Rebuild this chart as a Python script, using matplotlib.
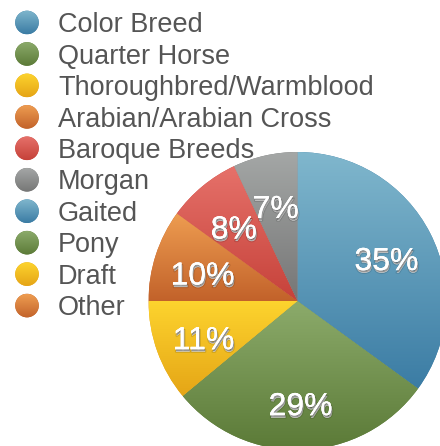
import numpy as np
import matplotlib
matplotlib.use("Agg")
import matplotlib.pyplot as plt
import matplotlib.patheffects as pe
from matplotlib.colors import LinearSegmentedColormap
from matplotlib.patches import Circle

plt.rcParams["font.family"] = ["Liberation Sans", "DejaVu Sans"]

# breed shares (%), last four are listed in the legend but have no slice
breeds = ["Color Breed", "Quarter Horse", "Thoroughbred/Warmblood",
          "Arabian/Arabian Cross", "Baroque Breeds", "Morgan",
          "Gaited", "Pony", "Draft", "Other"]
shares = [35, 29, 11, 10, 8, 7, 0, 0, 0, 0]

# gradient colours (top, bottom) per breed
tops = ["#80b7cd", "#8cab6b", "#fdd42e", "#ee9d51", "#e6716a", "#a4a7a6",
        "#80b7cd", "#8cab6b", "#fdd42e", "#ee9d51"]
bottoms = ["#3b7ca4", "#5b7a37", "#e5a516", "#c2622a", "#c6423a", "#767676",
           "#3b7ca4", "#5b7a37", "#e5a516", "#c2622a"]

W, H = 440, 446
fig = plt.figure(figsize=(W / 100, H / 100), dpi=100)
ax = fig.add_axes([0, 0, 1, 1])


def gradient_fill(patch, x0, x1, y0, y1, top, bottom, z):
    cmap = LinearSegmentedColormap.from_list("g", [top, bottom])
    grad = np.linspace(0, 1, 256).reshape(-1, 1)
    im = ax.imshow(grad, cmap=cmap, extent=(x0, x1, y0, y1), origin="upper",
                   aspect="auto", interpolation="bilinear", zorder=z)
    im.set_clip_path(patch)


# pie
cx, cy, R = 297.5, H - 301, 149
idx = [i for i, s in enumerate(shares) if s > 0]
vals = [shares[i] for i in idx]
wedges, _, autotexts = ax.pie(vals, colors=[bottoms[i] for i in idx],
                              startangle=90, counterclock=False,
                              center=(cx, cy), radius=R, autopct="%.0f%%",
                              pctdistance=0.67,
                              wedgeprops=dict(linewidth=0, zorder=1),
                              textprops=dict(color="white", fontsize=23, zorder=5))
for w, i in zip(wedges, idx):
    ext = w.get_path().get_extents()
    gradient_fill(w, ext.x0, ext.x1, ext.y0, ext.y1, tops[i], bottoms[i], 2)

# soft drop shadow under the percentage labels
shadow = [pe.withStroke(linewidth=1.6, foreground=(0, 0, 0, 0.12), offset=(0.6, -1.8)),
          pe.withSimplePatchShadow(offset=(0.6, -1.4), shadow_rgbFace="black", alpha=0.35)]
cap = 0.716 * 23 / 72 * 100
for t in autotexts:
    x, y = t.get_position()
    t.set_position((x, y - cap / 2 - 3))
    t.set_va("baseline")
    t.set_path_effects(shadow + [pe.Normal()])

# legend
row0, step = 22.5, 31.45
fs = 19.5
lcap = 0.716 * fs / 72 * 100
for k, name in enumerate(breeds):
    yc = H - (row0 + k * step)
    c = Circle((27, yc), 11.8, facecolor=bottoms[k], edgecolor="none", zorder=6)
    ax.add_patch(c)
    gradient_fill(c, 15, 39, yc - 12, yc + 12, tops[k], bottoms[k], 7)
    ax.text(58, yc - lcap / 2, name, fontsize=fs, color="#555555",
            ha="left", va="baseline", zorder=8)

ax.set_xlim(0, W)
ax.set_ylim(0, H)
ax.set_aspect("equal")
ax.axis("off")

fig.savefig("out.png", dpi=100)
